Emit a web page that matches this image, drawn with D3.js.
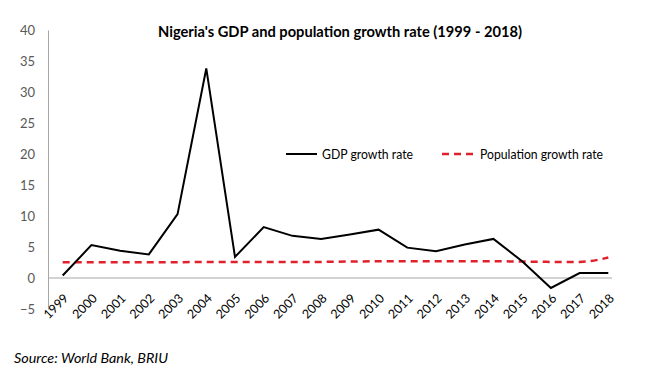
<!DOCTYPE html>
<html>
<head>
<meta charset="utf-8">
<script src="https://cdn.jsdelivr.net/npm/d3@7"></script>
<style>
  html, body { margin: 0; padding: 0; background: #fff; }
  svg { display: block; }
</style>
</head>
<body>
<svg id="chart" width="653" height="373"></svg>
<script>
const years = ["1999","2000","2001","2002","2003","2004","2005","2006","2007","2008","2009","2010","2011","2012","2013","2014","2015","2016","2017","2018"];
const gdpGrowth = [0.4, 5.3, 4.4, 3.8, 10.3, 33.8, 3.4, 8.2, 6.8, 6.3, 7.0, 7.8, 4.9, 4.3, 5.4, 6.3, 2.7, -1.6, 0.8, 0.8];
const popGrowth = [2.55, 2.55, 2.55, 2.55, 2.55, 2.6, 2.6, 2.6, 2.6, 2.6, 2.65, 2.7, 2.7, 2.7, 2.7, 2.7, 2.65, 2.6, 2.6, 3.3];
const yTicks = [-5, 0, 5, 10, 15, 20, 25, 30, 35, 40];
const seriesNames = ["GDP growth rate", "Population growth rate"];
const titleText = "Nigeria's GDP and population growth rate (1999 - 2018)";
const sourceText = "Source: World Bank, BRIU";

const svg = d3.select("#chart");
const font = "Lato, 'Open Sans', sans-serif";

const x = d3.scalePoint().domain(years).range([62.7, 608.3]);
const y = d3.scaleLinear().domain([-5, 40]).range([309, 30]);

// Y axis labels
const yAxis = d3.axisLeft(y).tickValues(yTicks).tickSize(0).tickPadding(13);
const gy = svg.append("g").attr("transform", "translate(48,0)").call(yAxis);
gy.select(".domain").attr("stroke", "#a6a6a6").attr("stroke-width", 1);
gy.selectAll("text").attr("font-family", font).attr("font-size", 13).attr("fill", "#595959");

// Zero line + x labels
const xAxis = d3.axisBottom(x).tickSize(0).tickPadding(0);
const gx = svg.append("g").attr("transform", `translate(0,${y(0)})`).call(xAxis);
gx.select(".domain").remove();
svg.append("line")
  .attr("x1", 48).attr("x2", 612)
  .attr("y1", y(0)).attr("y2", y(0))
  .attr("stroke", "#a6a6a6").attr("stroke-width", 1);
gx.selectAll("text")
  .attr("font-family", font).attr("font-size", 12.5).attr("fill", "#000")
  .attr("text-anchor", "end")
  .attr("dy", 0)
  .attr("transform", "translate(6,21) rotate(-45)");

// Lines
const gdpLine = d3.line().x((d, i) => x(years[i])).y(d => y(d));
const popLine = d3.line().x((d, i) => x(years[i])).y(d => y(d)).curve(d3.curveMonotoneX);

svg.append("path").datum(popGrowth)
  .attr("d", popLine)
  .attr("fill", "none").attr("stroke", "#e0202b")
  .attr("stroke-width", 2.5).attr("stroke-dasharray", "7,5");

svg.append("path").datum(gdpGrowth)
  .attr("d", gdpLine)
  .attr("fill", "none").attr("stroke", "#000")
  .attr("stroke-width", 2).attr("stroke-linejoin", "miter");

// Title
svg.append("text")
  .attr("x", 158).attr("y", 36.5)
  .attr("font-family", font).attr("font-size", 15).attr("font-weight", "bold")
  .attr("fill", "#000")
  .attr("textLength", 364).attr("lengthAdjust", "spacingAndGlyphs")
  .text(titleText);

// Legend
const lg = svg.append("g");
lg.append("line").attr("x1", 286).attr("x2", 317).attr("y1", 154).attr("y2", 154)
  .attr("stroke", "#000").attr("stroke-width", 2);
lg.append("text").attr("x", 322).attr("y", 158.5)
  .attr("font-family", font).attr("font-size", 12.5).attr("fill", "#000")
  .attr("textLength", 91).attr("lengthAdjust", "spacingAndGlyphs")
  .text(seriesNames[0]);
lg.append("line").attr("x1", 442).attr("x2", 476).attr("y1", 154).attr("y2", 154)
  .attr("stroke", "#e0202b").attr("stroke-width", 2.5).attr("stroke-dasharray", "7,5");
lg.append("text").attr("x", 480).attr("y", 158.5)
  .attr("font-family", font).attr("font-size", 12.5).attr("fill", "#000")
  .attr("textLength", 123).attr("lengthAdjust", "spacingAndGlyphs")
  .text(seriesNames[1]);

// Source
svg.append("text").attr("x", 14).attr("y", 363)
  .attr("font-family", font).attr("font-size", 14).attr("font-style", "italic")
  .attr("fill", "#000")
  .attr("textLength", 154).attr("lengthAdjust", "spacingAndGlyphs")
  .text(sourceText);
</script>
</body>
</html>
